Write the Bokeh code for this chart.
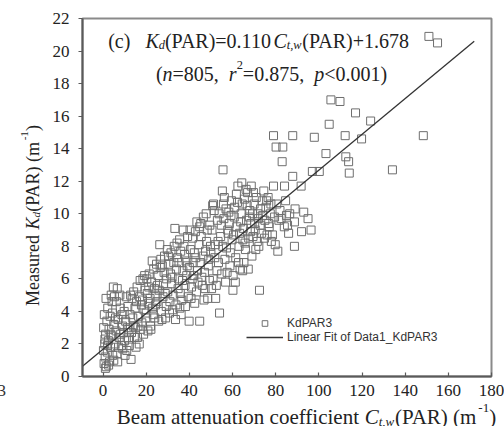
import math
from bokeh.plotting import figure
from bokeh.models import Label, Legend, LegendItem, Range1d, FixedTicker
from bokeh.core.properties import value
from bokeh.embed import file_html
from bokeh.resources import INLINE

# ---------------- data ----------------
beam_c = [
    0.5, 1.0, 1.5, 2.0, 0.8, 1.2, 2.5, 3.0, 3.5, 0.3, 1.8, 2.8, 4.0, 4.5, 0.6, 2.2, 3.3, 4.2, 4.8, 1.4, 3.8, 5.0, 5.0, 0.2, 2.6, 4.4, 1.1, 3.6, 0.9, 2.1,
    5.5, 6.0, 6.5, 7.0, 7.5, 8.0, 8.5, 9.0, 9.5, 6.2, 7.8, 8.8, 5.8, 9.2, 6.8, 7.2, 8.2, 9.8, 5.3, 6.6,
    10.0, 10.5, 11.0, 11.5, 12.0, 12.5, 13.0, 13.5, 14.0, 14.5, 10.8, 11.8, 12.8, 13.8, 14.8, 10.2, 12.2, 14.2, 11.3, 13.2,
    15.0, 15.5, 16.0, 16.5, 17.0, 17.5, 18.0, 18.5, 19.0, 19.5, 15.8, 16.8, 17.8, 18.8, 19.8, 15.3, 17.2, 18.3, 19.3, 16.2,
    20.0, 20.5, 21.0, 21.4, 22.0, 22.5, 23.0, 23.5, 24.0, 24.5, 20.8, 21.8, 22.8, 23.8, 24.8, 20.3, 22.2, 23.3, 24.3, 21.2,
    25.0, 25.5, 26.0, 26.3, 27.0, 27.5, 28.0, 28.5, 29.0, 29.5, 25.8, 26.8, 27.8, 28.8, 29.8, 25.3, 27.3, 28.3, 29.3, 26.5,
    30.0, 30.5, 31.0, 31.5, 32.0, 32.5, 33.0, 33.3, 33.6, 34.0, 34.5, 30.8, 31.8, 32.8, 33.8, 34.8, 30.3, 31.3, 32.3, 34.3, 35.5,
    35.0, 35.8, 36.0, 36.5, 37.0, 37.5, 38.0, 38.5, 39.0, 39.5, 39.9, 36.2, 37.2, 38.2, 39.2, 35.2, 36.8, 38.8, 37.8, 35.6,
    40.0, 40.5, 41.0, 41.5, 42.0, 42.5, 43.0, 43.5, 44.0, 44.5, 44.8, 44.8, 40.8, 41.8, 42.8, 43.8, 40.3, 41.3, 42.3, 43.3,
    45.0, 45.5, 46.0, 46.5, 47.0, 47.5, 48.0, 48.5, 49.0, 49.5, 45.8, 46.8, 47.8, 48.8, 49.8, 45.3, 46.3, 47.3, 48.3, 49.3,
    50.0, 50.5, 51.0, 51.5, 52.0, 52.5, 53.0, 53.5, 54.0, 54.5, 50.8, 51.8, 52.8, 53.8, 54.8, 50.3, 52.2, 53.3, 51.2, 55.0, 55.6,
    55.5, 56.0, 56.5, 57.0, 57.5, 58.0, 58.5, 59.0, 59.5, 60.2, 55.8, 56.8, 57.8, 58.8, 59.8, 56.2, 57.2, 58.3, 59.3, 55.3,
    60.5, 61.0, 61.5, 62.0, 62.5, 63.0, 63.5, 64.0, 64.3, 64.7, 60.8, 61.8, 62.8, 63.8, 64.8, 60.3, 62.3, 63.3, 61.3, 64.5,
    65.0, 65.5, 66.0, 66.5, 67.0, 67.5, 68.0, 68.7, 69.0, 69.7, 65.8, 66.8, 67.8, 68.3, 69.3, 65.3, 66.3, 67.3, 68.5, 69.5,
    70.0, 70.5, 71.0, 71.5, 72.0, 72.5, 73.0, 73.5, 74.0, 74.5, 70.8, 71.8, 72.8, 73.8, 70.3, 72.2, 74.8,
    75.0, 75.5, 76.0, 76.5, 77.0, 77.5, 78.0, 78.5, 79.0, 79.0, 79.5, 80.2, 75.8, 76.8, 77.8, 79.8,
    80.5, 81.0, 81.5, 82.0, 82.5, 83.0, 83.3, 84.0, 84.1, 85.5, 84.6, 85.0, 86.0, 86.5, 87.9, 87.9, 88.7, 88.7, 89.0,
    91.8, 96.4, 97.0, 97.9, 100.2, 93.0, 95.0, 92.0,
    103.3, 104.8, 105.6, 109.8, 112.2, 112.5, 114.1, 113.8, 117.0, 119.8, 124.0, 134.1, 148.4, 151.0, 155.0,
]
kd_measured = [
    0.8, 1.2, 0.6, 1.5, 2.0, 2.6, 2.2, 0.9, 1.8, 3.0, 3.4, 2.9, 2.5, 1.3, 3.8, 4.2, 3.7, 4.6, 5.5, 4.8, 5.0, 3.2, 1.0, 1.6, 0.7, 3.9, 0.5, 2.6, 2.3, 1.9,
    2.0, 2.8, 1.4, 3.5, 2.4, 4.2, 1.9, 3.1, 2.7, 4.6, 5.0, 3.8, 3.6, 1.7, 0.9, 1.8, 2.6, 4.0, 4.9, 5.4,
    2.2, 3.4, 1.6, 4.3, 2.9, 3.8, 1.05, 4.8, 3.1, 2.4, 4.9, 2.3, 5.0, 3.6, 4.2, 1.3, 1.9, 5.2, 3.0, 2.7,
    3.0, 4.6, 2.4, 3.7, 4.9, 2.9, 3.3, 6.0, 4.1, 5.3, 5.5, 2.0, 4.4, 2.6, 3.6, 1.8, 5.9, 4.7, 6.2, 3.1,
    3.9, 5.1, 4.5, 6.3, 3.1, 5.8, 4.2, 6.6, 3.6, 5.0, 2.8, 4.8, 7.1, 5.4, 6.9, 6.0, 2.9, 3.8, 4.4, 5.5,
    4.6, 6.2, 5.3, 8.1, 4.0, 6.8, 5.7, 7.4, 3.6, 6.0, 3.4, 7.2, 4.9, 5.1, 7.8, 5.6, 3.5, 6.4, 4.3, 6.7,
    5.2, 6.9, 4.6, 7.6, 6.1, 5.0, 8.0, 9.1, 3.5, 6.6, 7.3, 3.9, 5.7, 7.0, 4.4, 5.4, 7.4, 6.3, 4.1, 8.2, 8.4,
    6.0, 5.1, 7.7, 4.7, 6.5, 8.0, 5.6, 7.1, 6.8, 4.9, 3.4, 3.8, 9.0, 4.3, 8.6, 7.0, 5.9, 6.2, 7.5, 4.2,
    6.7, 7.8, 5.5, 8.5, 6.2, 4.5, 7.3, 9.5, 5.8, 8.1, 3.4, 9.2, 4.8, 7.0, 8.9, 6.5, 9.0, 6.0, 7.6, 5.2,
    7.0, 8.6, 5.6, 9.8, 6.4, 7.7, 8.3, 4.8, 7.2, 9.3, 6.1, 4.7, 10.0, 6.8, 8.0, 9.4, 7.4, 5.4, 9.0, 5.9,
    7.6, 9.0, 6.0, 10.2, 8.1, 5.6, 9.6, 7.0, 3.9, 8.6, 10.5, 7.3, 6.5, 10.0, 9.3, 5.4, 4.8, 8.3, 10.6, 6.3, 12.7,
    8.0, 9.7, 7.2, 10.3, 6.4, 8.8, 9.4, 7.6, 10.8, 5.3, 10.6, 5.8, 9.0, 6.8, 8.4, 11.0, 7.9, 10.1, 9.9, 11.4,
    8.7, 10.4, 7.3, 9.2, 11.7, 8.0, 6.6, 10.0, 11.9, 6.5, 9.8, 11.2, 7.0, 9.5, 8.4, 6.2, 10.7, 8.8, 5.8, 10.6,
    9.1, 10.9, 7.8, 9.6, 11.3, 8.5, 10.2, 11.7, 7.4, 11.3, 8.2, 10.5, 9.8, 8.9, 10.0, 7.0, 11.5, 6.6, 9.4, 8.6,
    10.6, 9.0, 11.0, 8.3, 9.7, 5.3, 10.3, 8.8, 9.9, 11.4, 7.8, 10.0, 9.3, 10.8, 9.4, 8.0, 8.5,
    9.6, 10.4, 8.7, 11.0, 9.2, 10.0, 8.3, 8.7, 11.7, 14.8, 9.8, 14.1, 10.8, 9.4, 10.6, 8.1,
    10.6, 7.7, 9.6, 10.2, 9.7, 13.2, 14.1, 9.2, 11.7, 9.3, 10.8, 9.9, 8.8, 10.0, 12.3, 14.8, 9.5, 8.0, 10.3,
    11.7, 9.0, 12.6, 14.7, 12.6, 10.1, 9.7, 8.9,
    13.7, 15.5, 17.0, 16.9, 14.8, 13.5, 12.5, 13.2, 16.2, 14.6, 15.7, 12.7, 14.8, 20.9, 20.5,
]
fit_slope = 0.110
fit_intercept = 1.678
fit_x = [-9.5, 172.0]
fit_y = [fit_slope * v + fit_intercept for v in fit_x]
x_ticks = [0, 20, 40, 60, 80, 100, 120, 140, 160, 180]
y_ticks = [0, 2, 4, 6, 8, 10, 12, 14, 16, 18, 20, 22]
legend_labels = ["KdPAR3", "Linear Fit of Data1_KdPAR3"]

# ---------------- layout ----------------
W, H = 504, 426
L, R, T, B = 82, 13, 18, 50
FW, FH = W - L - R, H - T - B
XMIN, XMAX, YMIN, YMAX = -9.5, 180.0, 0.0, 22.0
BASE_FIX = -5.0   # empirical correction of the rendered text baseline


def X(px):
    return XMIN + (px - L) / FW * (XMAX - XMIN)


def Y(py):
    return YMAX - (py - T) / FH * (YMAX - YMIN)


p = figure(width=W, height=H, x_range=Range1d(XMIN, XMAX), y_range=Range1d(YMIN, YMAX),
           output_backend="svg", toolbar_location=None,
           min_border_left=L, min_border_right=R, min_border_top=T, min_border_bottom=B)
p.xgrid.visible = False
p.ygrid.visible = False
p.outline_line_color = "#8a8a8a"
p.outline_line_width = 2
p.background_fill_color = "white"
p.border_fill_color = "white"

for ax in (p.xaxis[0], p.yaxis[0]):
    ax.axis_line_color = "#5a5a5a"
    ax.axis_line_width = 2
    ax.major_tick_line_color = "#5a5a5a"
    ax.major_tick_line_width = 1.2
    ax.minor_tick_line_color = None
    ax.major_label_text_font = "Liberation Serif"
    ax.major_label_text_font_size = "17px"
    ax.major_label_text_color = "#222222"

p.xaxis.ticker = FixedTicker(ticks=x_ticks)
p.yaxis.ticker = FixedTicker(ticks=y_ticks)
p.xaxis.major_tick_in = 4
p.xaxis.major_tick_out = 0
p.xaxis.major_label_standoff = 8
p.yaxis.major_tick_in = 0
p.yaxis.major_tick_out = 4
p.yaxis.major_label_standoff = 9

r_sc = p.scatter(beam_c, kd_measured, marker="square", size=8, fill_color=None,
                 line_color="#6e6e6e", line_width=1)
r_ln = p.line(fit_x, fit_y, line_color="#333333", line_width=1.3)

legend = Legend(items=[LegendItem(label=legend_labels[0], renderers=[r_sc]),
                       LegendItem(label=legend_labels[1], renderers=[r_ln])],
                location=(164, 32), border_line_alpha=0, background_fill_alpha=0,
                label_text_font="Liberation Sans", label_text_font_size="12px",
                label_text_color="#333333",
                glyph_width=37, glyph_height=14, label_height=14, spacing=0,
                padding=0, margin=0, label_standoff=4)
p.add_layout(legend)

# ---------------- rich text pieces ----------------
TW = {'(': 333, ')': 333, 'c': 444, ' ': 250, 'K': 667, 'd': 500, 'P': 556, 'A': 722,
      'R': 667, '=': 564, '0': 500, '.': 250, '1': 500, 'C': 667, 't': 278, ',': 250,
      'w': 722, '+': 564, '6': 500, '7': 500, '8': 500, 'n': 500, '5': 500, 'r': 389,
      '2': 500, 'p': 500, '<': 564, 'M': 889, 'e': 444, 'a': 444, 's': 389, 'u': 500,
      'B': 667, 'm': 778, 'i': 278, 'o': 500, 'f': 333, 'l': 278, '-': 333, '3': 500}


def text_w(s, size):
    return sum(TW.get(ch, 500) for ch in s) / 1000.0 * size


def piece_size(kind, size):
    return size * 0.62 if kind in ("sub", "sup", "isub") else size


def run_width(pieces, size):
    return sum(text_w(t, piece_size(k, size)) for t, k in pieces)


def run(pieces, start, base, size, vertical=False, color="#222222", outside=False):
    cur = start
    base = base + BASE_FIX
    for txt, kind in pieces:
        sz = piece_size(kind, size)
        if kind in ("sub", "isub"):
            off = 0.22 * size
        elif kind == "sup":
            off = -0.42 * size
        else:
            off = 0.0
        style = "italic" if kind in ("i", "isub") else "normal"
        if vertical:
            px, py, ang = base + off, cur, math.pi / 2
            cur -= text_w(txt, sz)
        else:
            px, py, ang = cur, base + off, 0.0
            cur += text_w(txt, sz)
        if outside:
            p.text(x=[X(px)], y=[Y(py)], text=[txt], angle=ang, level="overlay",
                   text_font=value("Liberation Serif"), text_font_size=value(f"{sz:.1f}px"),
                   text_font_style=value(style), text_baseline=value("alphabetic"),
                   text_align=value("left"), text_color=color)
        else:
            p.add_layout(Label(x=px, y=py, angle=ang, text=txt, text_font="Liberation Serif",
                               text_font_size=f"{sz:.1f}px", text_font_style=style,
                               text_baseline="alphabetic", text_align="left",
                               text_color=color, x_units="canvas", y_units="canvas"))


eq1 = [("(c)   ", "n"), ("K", "i"), ("d", "isub"), ("(PAR)=0.110", "n"), ("C", "i"),
       ("t,w", "isub"), ("(PAR)+1.678", "n")]
size1 = 20
run(eq1, 259 - run_width(eq1, size1) / 2, 45, size1)

eq2 = [("(", "n"), ("n", "i"), ("=805,  ", "n"), ("r", "i"), ("2", "sup"), ("=0.875,  ", "n"),
       ("p", "i"), ("<0.001)", "n")]
run(eq2, 271 - run_width(eq2, size1) / 2, 78, size1)

xlab = [("Beam attenuation coefficient ", "n"), ("C", "i"), ("t,w", "isub"), ("(PAR) (m", "n"),
        ("-1", "sup"), (")", "n")]
xsize = 21
run(xlab, 306 - run_width(xlab, xsize) / 2, 421, xsize, outside=True)

ylab = [("Measured ", "n"), ("K", "i"), ("d", "isub"), ("(PAR) (m", "n"), ("-1", "sup"), (")", "n")]
ysize = 18
run(ylab, 215 + run_width(ylab, ysize) / 2, 37, ysize, vertical=True, outside=True)

# stray glyph of the neighbouring panel at the left edge
run([("3", "n")], -3, 395, 17, color="#333333", outside=True)

open("out.html", "w").write(file_html(p, INLINE))
